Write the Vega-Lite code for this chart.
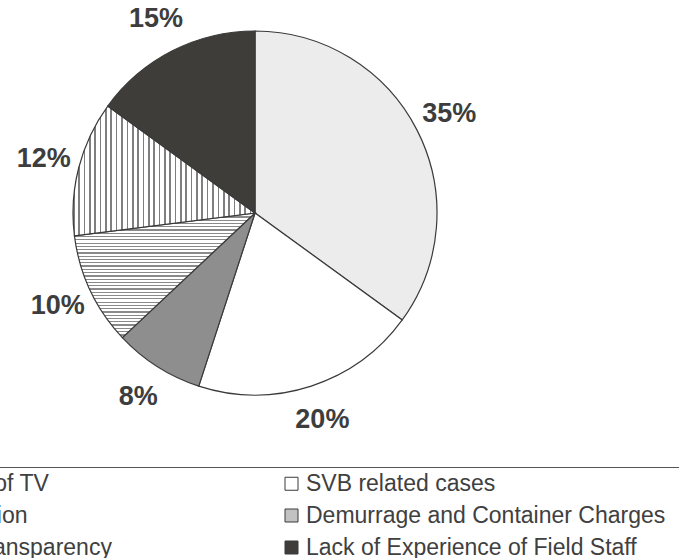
{
  "$schema": "https://vega.github.io/schema/vega-lite/v6.json",
  "width": 510,
  "height": 426,
  "autosize": {"type": "none"},
  "padding": {"left": 0, "top": 0, "right": 169, "bottom": 132},
  "background": "white",
  "config": {"view": {"stroke": null}},
  "data": {
    "values": [
      {"cause": "Rejection of TV", "share": 0.35, "slice": 1},
      {"cause": "SVB related cases", "share": 0.20, "slice": 2},
      {"cause": "Classification", "share": 0.08, "slice": 3},
      {"cause": "Demurrage and Container Charges", "share": 0.10, "slice": 4},
      {"cause": "Lack of Transparency", "share": 0.12, "slice": 5},
      {"cause": "Lack of Experience of Field Staff", "share": 0.15, "slice": 6}
    ]
  },
  "encoding": {
    "theta": {"field": "share", "type": "quantitative", "stack": true},
    "order": {"field": "slice", "type": "quantitative"}
  },
  "layer": [
    {
      "mark": {"type": "arc", "outerRadius": 182, "stroke": "#3a3a3a", "strokeWidth": 1.2},
      "encoding": {
        "fill": {
          "condition": [
            {"test": "datum.cause === 'Lack of Transparency'", "value": {"gradient": "linear", "x1": 0, "y1": 0, "x2": 1, "y2": 0, "stops": [
                {"offset": 0, "color": "#7f7f7f"}, {"offset": 0.009, "color": "#7f7f7f"}, {"offset": 0.009, "color": "#ffffff"}, {"offset": 0.0294, "color": "#ffffff"},
                {"offset": 0.0294, "color": "#7f7f7f"}, {"offset": 0.0384, "color": "#7f7f7f"}, {"offset": 0.0384, "color": "#ffffff"}, {"offset": 0.0588, "color": "#ffffff"},
                {"offset": 0.0588, "color": "#7f7f7f"}, {"offset": 0.0678, "color": "#7f7f7f"}, {"offset": 0.0678, "color": "#ffffff"}, {"offset": 0.0882, "color": "#ffffff"},
                {"offset": 0.0882, "color": "#7f7f7f"}, {"offset": 0.0972, "color": "#7f7f7f"}, {"offset": 0.0972, "color": "#ffffff"}, {"offset": 0.1176, "color": "#ffffff"},
                {"offset": 0.1176, "color": "#7f7f7f"}, {"offset": 0.1266, "color": "#7f7f7f"}, {"offset": 0.1266, "color": "#ffffff"}, {"offset": 0.1471, "color": "#ffffff"},
                {"offset": 0.1471, "color": "#7f7f7f"}, {"offset": 0.1561, "color": "#7f7f7f"}, {"offset": 0.1561, "color": "#ffffff"}, {"offset": 0.1765, "color": "#ffffff"},
                {"offset": 0.1765, "color": "#7f7f7f"}, {"offset": 0.1855, "color": "#7f7f7f"}, {"offset": 0.1855, "color": "#ffffff"}, {"offset": 0.2059, "color": "#ffffff"},
                {"offset": 0.2059, "color": "#7f7f7f"}, {"offset": 0.2149, "color": "#7f7f7f"}, {"offset": 0.2149, "color": "#ffffff"}, {"offset": 0.2353, "color": "#ffffff"},
                {"offset": 0.2353, "color": "#7f7f7f"}, {"offset": 0.2443, "color": "#7f7f7f"}, {"offset": 0.2443, "color": "#ffffff"}, {"offset": 0.2647, "color": "#ffffff"},
                {"offset": 0.2647, "color": "#7f7f7f"}, {"offset": 0.2737, "color": "#7f7f7f"}, {"offset": 0.2737, "color": "#ffffff"}, {"offset": 0.2941, "color": "#ffffff"},
                {"offset": 0.2941, "color": "#7f7f7f"}, {"offset": 0.3031, "color": "#7f7f7f"}, {"offset": 0.3031, "color": "#ffffff"}, {"offset": 0.3235, "color": "#ffffff"},
                {"offset": 0.3235, "color": "#7f7f7f"}, {"offset": 0.3325, "color": "#7f7f7f"}, {"offset": 0.3325, "color": "#ffffff"}, {"offset": 0.3529, "color": "#ffffff"},
                {"offset": 0.3529, "color": "#7f7f7f"}, {"offset": 0.3619, "color": "#7f7f7f"}, {"offset": 0.3619, "color": "#ffffff"}, {"offset": 0.3824, "color": "#ffffff"},
                {"offset": 0.3824, "color": "#7f7f7f"}, {"offset": 0.3914, "color": "#7f7f7f"}, {"offset": 0.3914, "color": "#ffffff"}, {"offset": 0.4118, "color": "#ffffff"},
                {"offset": 0.4118, "color": "#7f7f7f"}, {"offset": 0.4208, "color": "#7f7f7f"}, {"offset": 0.4208, "color": "#ffffff"}, {"offset": 0.4412, "color": "#ffffff"},
                {"offset": 0.4412, "color": "#7f7f7f"}, {"offset": 0.4502, "color": "#7f7f7f"}, {"offset": 0.4502, "color": "#ffffff"}, {"offset": 0.4706, "color": "#ffffff"},
                {"offset": 0.4706, "color": "#7f7f7f"}, {"offset": 0.4796, "color": "#7f7f7f"}, {"offset": 0.4796, "color": "#ffffff"}, {"offset": 0.5, "color": "#ffffff"},
                {"offset": 0.5, "color": "#7f7f7f"}, {"offset": 0.509, "color": "#7f7f7f"}, {"offset": 0.509, "color": "#ffffff"}, {"offset": 0.5294, "color": "#ffffff"},
                {"offset": 0.5294, "color": "#7f7f7f"}, {"offset": 0.5384, "color": "#7f7f7f"}, {"offset": 0.5384, "color": "#ffffff"}, {"offset": 0.5588, "color": "#ffffff"},
                {"offset": 0.5588, "color": "#7f7f7f"}, {"offset": 0.5678, "color": "#7f7f7f"}, {"offset": 0.5678, "color": "#ffffff"}, {"offset": 0.5882, "color": "#ffffff"},
                {"offset": 0.5882, "color": "#7f7f7f"}, {"offset": 0.5972, "color": "#7f7f7f"}, {"offset": 0.5972, "color": "#ffffff"}, {"offset": 0.6176, "color": "#ffffff"},
                {"offset": 0.6176, "color": "#7f7f7f"}, {"offset": 0.6266, "color": "#7f7f7f"}, {"offset": 0.6266, "color": "#ffffff"}, {"offset": 0.6471, "color": "#ffffff"},
                {"offset": 0.6471, "color": "#7f7f7f"}, {"offset": 0.6561, "color": "#7f7f7f"}, {"offset": 0.6561, "color": "#ffffff"}, {"offset": 0.6765, "color": "#ffffff"},
                {"offset": 0.6765, "color": "#7f7f7f"}, {"offset": 0.6855, "color": "#7f7f7f"}, {"offset": 0.6855, "color": "#ffffff"}, {"offset": 0.7059, "color": "#ffffff"},
                {"offset": 0.7059, "color": "#7f7f7f"}, {"offset": 0.7149, "color": "#7f7f7f"}, {"offset": 0.7149, "color": "#ffffff"}, {"offset": 0.7353, "color": "#ffffff"},
                {"offset": 0.7353, "color": "#7f7f7f"}, {"offset": 0.7443, "color": "#7f7f7f"}, {"offset": 0.7443, "color": "#ffffff"}, {"offset": 0.7647, "color": "#ffffff"},
                {"offset": 0.7647, "color": "#7f7f7f"}, {"offset": 0.7737, "color": "#7f7f7f"}, {"offset": 0.7737, "color": "#ffffff"}, {"offset": 0.7941, "color": "#ffffff"},
                {"offset": 0.7941, "color": "#7f7f7f"}, {"offset": 0.8031, "color": "#7f7f7f"}, {"offset": 0.8031, "color": "#ffffff"}, {"offset": 0.8235, "color": "#ffffff"},
                {"offset": 0.8235, "color": "#7f7f7f"}, {"offset": 0.8325, "color": "#7f7f7f"}, {"offset": 0.8325, "color": "#ffffff"}, {"offset": 0.8529, "color": "#ffffff"},
                {"offset": 0.8529, "color": "#7f7f7f"}, {"offset": 0.8619, "color": "#7f7f7f"}, {"offset": 0.8619, "color": "#ffffff"}, {"offset": 0.8824, "color": "#ffffff"},
                {"offset": 0.8824, "color": "#7f7f7f"}, {"offset": 0.8914, "color": "#7f7f7f"}, {"offset": 0.8914, "color": "#ffffff"}, {"offset": 0.9118, "color": "#ffffff"},
                {"offset": 0.9118, "color": "#7f7f7f"}, {"offset": 0.9208, "color": "#7f7f7f"}, {"offset": 0.9208, "color": "#ffffff"}, {"offset": 0.9412, "color": "#ffffff"},
                {"offset": 0.9412, "color": "#7f7f7f"}, {"offset": 0.9502, "color": "#7f7f7f"}, {"offset": 0.9502, "color": "#ffffff"}, {"offset": 0.9706, "color": "#ffffff"},
                {"offset": 0.9706, "color": "#7f7f7f"}, {"offset": 0.9796, "color": "#7f7f7f"}, {"offset": 0.9796, "color": "#ffffff"}, {"offset": 1, "color": "#ffffff"}
              ]}},
            {"test": "datum.cause === 'Demurrage and Container Charges'", "value": {"gradient": "linear", "x1": 0, "y1": 0, "x2": 0, "y2": 1, "stops": [
                {"offset": 0, "color": "#8a8a8a"}, {"offset": 0.01, "color": "#8a8a8a"}, {"offset": 0.01, "color": "#ffffff"}, {"offset": 0.0263, "color": "#ffffff"},
                {"offset": 0.0263, "color": "#8a8a8a"}, {"offset": 0.0363, "color": "#8a8a8a"}, {"offset": 0.0363, "color": "#ffffff"}, {"offset": 0.0526, "color": "#ffffff"},
                {"offset": 0.0526, "color": "#8a8a8a"}, {"offset": 0.0626, "color": "#8a8a8a"}, {"offset": 0.0626, "color": "#ffffff"}, {"offset": 0.0789, "color": "#ffffff"},
                {"offset": 0.0789, "color": "#8a8a8a"}, {"offset": 0.0889, "color": "#8a8a8a"}, {"offset": 0.0889, "color": "#ffffff"}, {"offset": 0.1053, "color": "#ffffff"},
                {"offset": 0.1053, "color": "#8a8a8a"}, {"offset": 0.1153, "color": "#8a8a8a"}, {"offset": 0.1153, "color": "#ffffff"}, {"offset": 0.1316, "color": "#ffffff"},
                {"offset": 0.1316, "color": "#8a8a8a"}, {"offset": 0.1416, "color": "#8a8a8a"}, {"offset": 0.1416, "color": "#ffffff"}, {"offset": 0.1579, "color": "#ffffff"},
                {"offset": 0.1579, "color": "#8a8a8a"}, {"offset": 0.1679, "color": "#8a8a8a"}, {"offset": 0.1679, "color": "#ffffff"}, {"offset": 0.1842, "color": "#ffffff"},
                {"offset": 0.1842, "color": "#8a8a8a"}, {"offset": 0.1942, "color": "#8a8a8a"}, {"offset": 0.1942, "color": "#ffffff"}, {"offset": 0.2105, "color": "#ffffff"},
                {"offset": 0.2105, "color": "#8a8a8a"}, {"offset": 0.2205, "color": "#8a8a8a"}, {"offset": 0.2205, "color": "#ffffff"}, {"offset": 0.2368, "color": "#ffffff"},
                {"offset": 0.2368, "color": "#8a8a8a"}, {"offset": 0.2468, "color": "#8a8a8a"}, {"offset": 0.2468, "color": "#ffffff"}, {"offset": 0.2632, "color": "#ffffff"},
                {"offset": 0.2632, "color": "#8a8a8a"}, {"offset": 0.2732, "color": "#8a8a8a"}, {"offset": 0.2732, "color": "#ffffff"}, {"offset": 0.2895, "color": "#ffffff"},
                {"offset": 0.2895, "color": "#8a8a8a"}, {"offset": 0.2995, "color": "#8a8a8a"}, {"offset": 0.2995, "color": "#ffffff"}, {"offset": 0.3158, "color": "#ffffff"},
                {"offset": 0.3158, "color": "#8a8a8a"}, {"offset": 0.3258, "color": "#8a8a8a"}, {"offset": 0.3258, "color": "#ffffff"}, {"offset": 0.3421, "color": "#ffffff"},
                {"offset": 0.3421, "color": "#8a8a8a"}, {"offset": 0.3521, "color": "#8a8a8a"}, {"offset": 0.3521, "color": "#ffffff"}, {"offset": 0.3684, "color": "#ffffff"},
                {"offset": 0.3684, "color": "#8a8a8a"}, {"offset": 0.3784, "color": "#8a8a8a"}, {"offset": 0.3784, "color": "#ffffff"}, {"offset": 0.3947, "color": "#ffffff"},
                {"offset": 0.3947, "color": "#8a8a8a"}, {"offset": 0.4047, "color": "#8a8a8a"}, {"offset": 0.4047, "color": "#ffffff"}, {"offset": 0.4211, "color": "#ffffff"},
                {"offset": 0.4211, "color": "#8a8a8a"}, {"offset": 0.4311, "color": "#8a8a8a"}, {"offset": 0.4311, "color": "#ffffff"}, {"offset": 0.4474, "color": "#ffffff"},
                {"offset": 0.4474, "color": "#8a8a8a"}, {"offset": 0.4574, "color": "#8a8a8a"}, {"offset": 0.4574, "color": "#ffffff"}, {"offset": 0.4737, "color": "#ffffff"},
                {"offset": 0.4737, "color": "#8a8a8a"}, {"offset": 0.4837, "color": "#8a8a8a"}, {"offset": 0.4837, "color": "#ffffff"}, {"offset": 0.5, "color": "#ffffff"},
                {"offset": 0.5, "color": "#8a8a8a"}, {"offset": 0.51, "color": "#8a8a8a"}, {"offset": 0.51, "color": "#ffffff"}, {"offset": 0.5263, "color": "#ffffff"},
                {"offset": 0.5263, "color": "#8a8a8a"}, {"offset": 0.5363, "color": "#8a8a8a"}, {"offset": 0.5363, "color": "#ffffff"}, {"offset": 0.5526, "color": "#ffffff"},
                {"offset": 0.5526, "color": "#8a8a8a"}, {"offset": 0.5626, "color": "#8a8a8a"}, {"offset": 0.5626, "color": "#ffffff"}, {"offset": 0.5789, "color": "#ffffff"},
                {"offset": 0.5789, "color": "#8a8a8a"}, {"offset": 0.5889, "color": "#8a8a8a"}, {"offset": 0.5889, "color": "#ffffff"}, {"offset": 0.6053, "color": "#ffffff"},
                {"offset": 0.6053, "color": "#8a8a8a"}, {"offset": 0.6153, "color": "#8a8a8a"}, {"offset": 0.6153, "color": "#ffffff"}, {"offset": 0.6316, "color": "#ffffff"},
                {"offset": 0.6316, "color": "#8a8a8a"}, {"offset": 0.6416, "color": "#8a8a8a"}, {"offset": 0.6416, "color": "#ffffff"}, {"offset": 0.6579, "color": "#ffffff"},
                {"offset": 0.6579, "color": "#8a8a8a"}, {"offset": 0.6679, "color": "#8a8a8a"}, {"offset": 0.6679, "color": "#ffffff"}, {"offset": 0.6842, "color": "#ffffff"},
                {"offset": 0.6842, "color": "#8a8a8a"}, {"offset": 0.6942, "color": "#8a8a8a"}, {"offset": 0.6942, "color": "#ffffff"}, {"offset": 0.7105, "color": "#ffffff"},
                {"offset": 0.7105, "color": "#8a8a8a"}, {"offset": 0.7205, "color": "#8a8a8a"}, {"offset": 0.7205, "color": "#ffffff"}, {"offset": 0.7368, "color": "#ffffff"},
                {"offset": 0.7368, "color": "#8a8a8a"}, {"offset": 0.7468, "color": "#8a8a8a"}, {"offset": 0.7468, "color": "#ffffff"}, {"offset": 0.7632, "color": "#ffffff"},
                {"offset": 0.7632, "color": "#8a8a8a"}, {"offset": 0.7732, "color": "#8a8a8a"}, {"offset": 0.7732, "color": "#ffffff"}, {"offset": 0.7895, "color": "#ffffff"},
                {"offset": 0.7895, "color": "#8a8a8a"}, {"offset": 0.7995, "color": "#8a8a8a"}, {"offset": 0.7995, "color": "#ffffff"}, {"offset": 0.8158, "color": "#ffffff"},
                {"offset": 0.8158, "color": "#8a8a8a"}, {"offset": 0.8258, "color": "#8a8a8a"}, {"offset": 0.8258, "color": "#ffffff"}, {"offset": 0.8421, "color": "#ffffff"},
                {"offset": 0.8421, "color": "#8a8a8a"}, {"offset": 0.8521, "color": "#8a8a8a"}, {"offset": 0.8521, "color": "#ffffff"}, {"offset": 0.8684, "color": "#ffffff"},
                {"offset": 0.8684, "color": "#8a8a8a"}, {"offset": 0.8784, "color": "#8a8a8a"}, {"offset": 0.8784, "color": "#ffffff"}, {"offset": 0.8947, "color": "#ffffff"},
                {"offset": 0.8947, "color": "#8a8a8a"}, {"offset": 0.9047, "color": "#8a8a8a"}, {"offset": 0.9047, "color": "#ffffff"}, {"offset": 0.9211, "color": "#ffffff"},
                {"offset": 0.9211, "color": "#8a8a8a"}, {"offset": 0.9311, "color": "#8a8a8a"}, {"offset": 0.9311, "color": "#ffffff"}, {"offset": 0.9474, "color": "#ffffff"},
                {"offset": 0.9474, "color": "#8a8a8a"}, {"offset": 0.9574, "color": "#8a8a8a"}, {"offset": 0.9574, "color": "#ffffff"}, {"offset": 0.9737, "color": "#ffffff"},
                {"offset": 0.9737, "color": "#8a8a8a"}, {"offset": 0.9837, "color": "#8a8a8a"}, {"offset": 0.9837, "color": "#ffffff"}, {"offset": 1, "color": "#ffffff"}
              ]}}
          ],
          "field": "cause",
          "type": "nominal",
          "scale": {
            "domain": ["Rejection of TV", "Classification", "Lack of Transparency", "SVB related cases", "Demurrage and Container Charges", "Lack of Experience of Field Staff"],
            "range": ["#ececec", "#8e8e8e", "#b0b0b0", "#ffffff", "#c2c2c2", "#3f3d39"]
          },
          "legend": {
            "orient": "none",
            "legendX": -139,
            "legendY": 467,
            "columns": 2,
            "gridAlign": "all",
            "columnPadding": 28,
            "rowPadding": 8,
            "symbolType": "square",
            "symbolSize": 169,
            "symbolStrokeColor": "#3a3a3a",
            "symbolStrokeWidth": 1,
            "labelFont": "Liberation Sans",
            "labelFontSize": 23,
            "labelColor": "#404040",
            "labelOffset": 3,
            "labelLimit": 0,
            "padding": 5,
            "strokeColor": "#555555",
            "title": " ",
            "titleOrient": "right",
            "titlePadding": 20
          }
        }
      }
    },
    {
      "mark": {"type": "text", "radius": 218, "font": "Liberation Sans", "fontSize": 27, "fontWeight": "bold", "fill": "#3d3d3d"},
      "encoding": {
        "text": {"field": "share", "type": "quantitative", "format": ".0%"}
      }
    }
  ]
}
